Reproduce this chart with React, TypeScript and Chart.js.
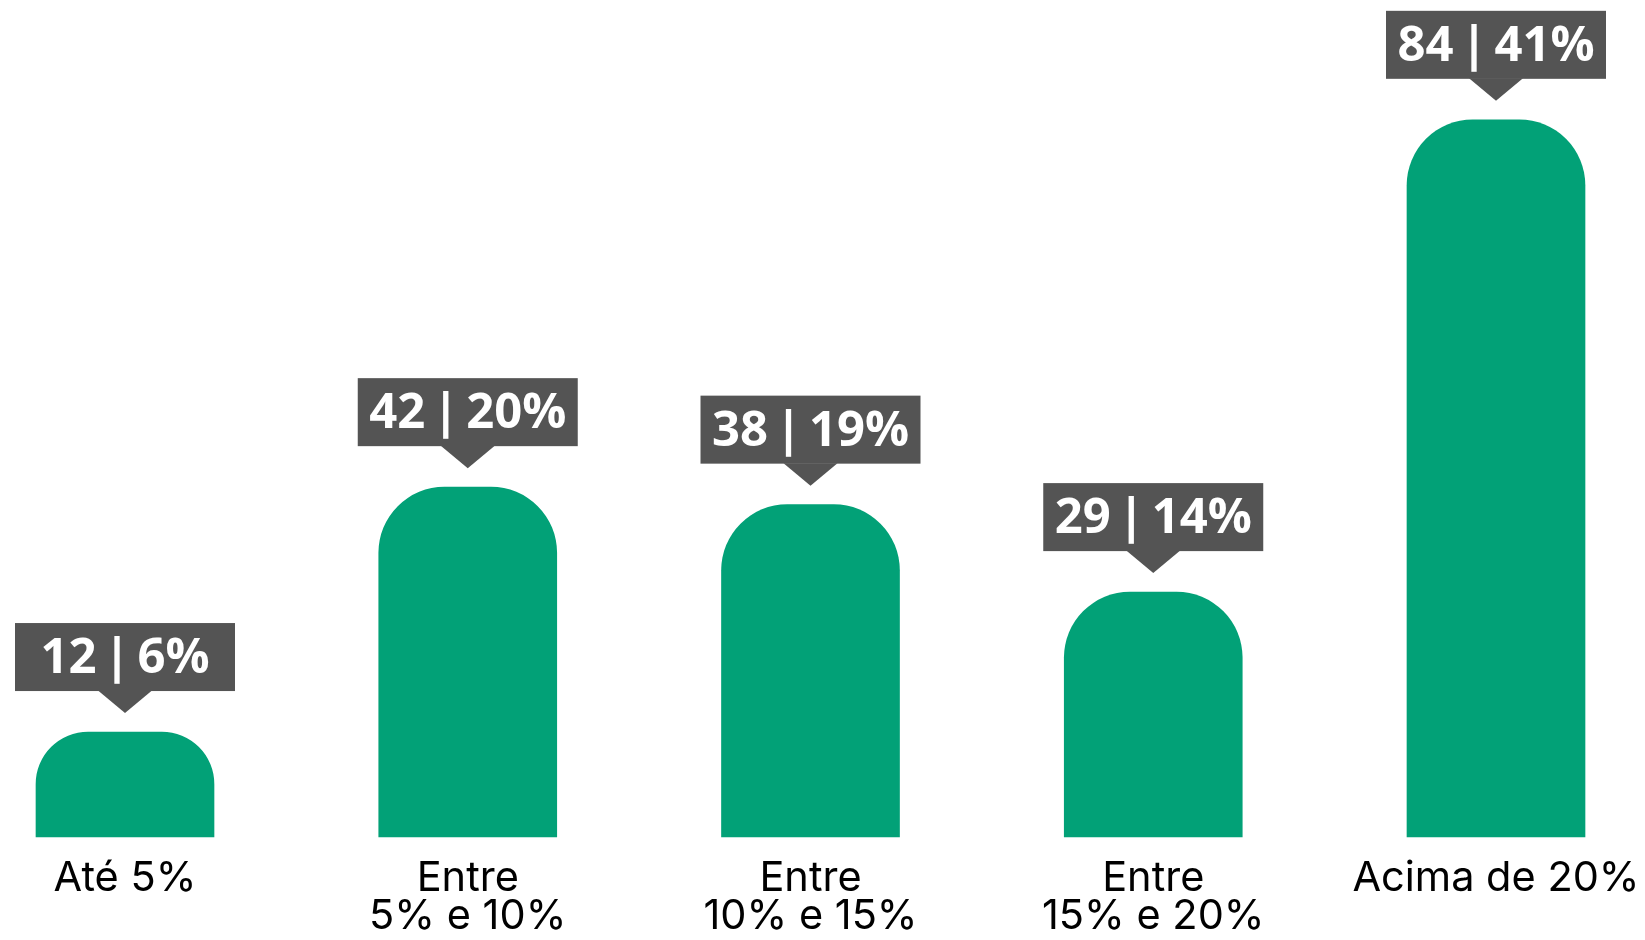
import React, { useEffect, useRef } from "react";
import { Chart, registerables } from "chart.js";

Chart.register(...registerables);

const categories: (string | string[])[] = [
  "Até 5%",
  ["Entre", "5% e 10%"],
  ["Entre", "10% e 15%"],
  ["Entre", "15% e 20%"],
  "Acima de 20%",
];
const counts: number[] = [12, 42, 38, 29, 84];
const percents: number[] = [6, 20, 19, 14, 41];

const BAR_COLOR = "#02a177";
const BOX_COLOR = "#545454";

const calloutPlugin = {
  id: "callouts",
  afterDatasetsDraw(chart: any) {
    const ctx = chart.ctx;
    const meta = chart.getDatasetMeta(0);
    ctx.save();
    meta.data.forEach((bar: any, i: number) => {
      const x = bar.x;
      const y = bar.y;
      const boxW = 220;
      const boxH = 68;
      const tipGap = 19;
      const triH = 22;
      const triW = 54;
      const boxBottom = y - tipGap - triH;
      const boxTop = boxBottom - boxH;
      ctx.fillStyle = BOX_COLOR;
      ctx.fillRect(x - boxW / 2, boxTop, boxW, boxH);
      ctx.beginPath();
      ctx.moveTo(x - triW / 2, boxBottom - 0.5);
      ctx.lineTo(x + triW / 2, boxBottom - 0.5);
      ctx.lineTo(x, y - tipGap);
      ctx.closePath();
      ctx.fill();

      ctx.fillStyle = "#ffffff";
      ctx.font = '700 49px "Open Sans"';
      ctx.textAlign = "left";
      ctx.textBaseline = "middle";
      const left = `${counts[i]}`;
      const right = `${percents[i]}%`;
      const sep = "|";
      const gap = 7;
      const w1 = ctx.measureText(left).width;
      const wb = ctx.measureText(sep).width;
      const w2 = ctx.measureText(right).width;
      const total = w1 + gap + wb + gap + w2;
      let cx = x - total / 2;
      const ty = boxTop + boxH / 2 + 2;
      ctx.fillText(left, cx, ty);
      cx += w1 + gap;
      ctx.fillText(sep, cx, ty);
      cx += wb + gap;
      ctx.fillText(right, cx, ty);
    });
    ctx.restore();
  },
};

export default function App() {
  const canvasRef = useRef<HTMLCanvasElement | null>(null);

  useEffect(() => {
    document.body.style.margin = "0";
    const canvas = canvasRef.current;
    if (!canvas) return;
    const chart = new Chart(canvas, {
      type: "bar",
      data: {
        labels: categories,
        datasets: [
          {
            data: percents,
            backgroundColor: BAR_COLOR,
            borderWidth: 0,
            barThickness: 178,
            borderRadius: { topLeft: 66, topRight: 66, bottomLeft: 0, bottomRight: 0 },
            borderSkipped: "bottom",
            clip: false as any,
          },
        ],
      },
      options: {
        animation: false,
        responsive: true,
        maintainAspectRatio: false,
        layout: { padding: { left: 125, right: 149, top: 0, bottom: 0 } },
        plugins: {
          legend: { display: false },
          tooltip: { enabled: false },
        },
        scales: {
          x: {
            type: "category",
            offset: false,
            grid: { display: false, drawTicks: false },
            border: { display: false },
            ticks: {
              color: "#000000",
              font: { family: "Inter", size: 41.5, lineHeight: 0.9 },
              padding: 23,
              maxRotation: 0,
              autoSkip: false,
            },
            afterFit: (scale: any) => {
              scale.height = 103;
              scale.paddingLeft = 0;
              scale.paddingRight = 0;
            },
          },
          y: {
            display: false,
            min: 0,
            max: 47.85,
          },
        },
      },
      plugins: [calloutPlugin],
    });
    return () => chart.destroy();
  }, []);

  return (
    <div style={{ position: "relative", width: "1645px", height: "940px" }}>
      <canvas ref={canvasRef} />
    </div>
  );
}
